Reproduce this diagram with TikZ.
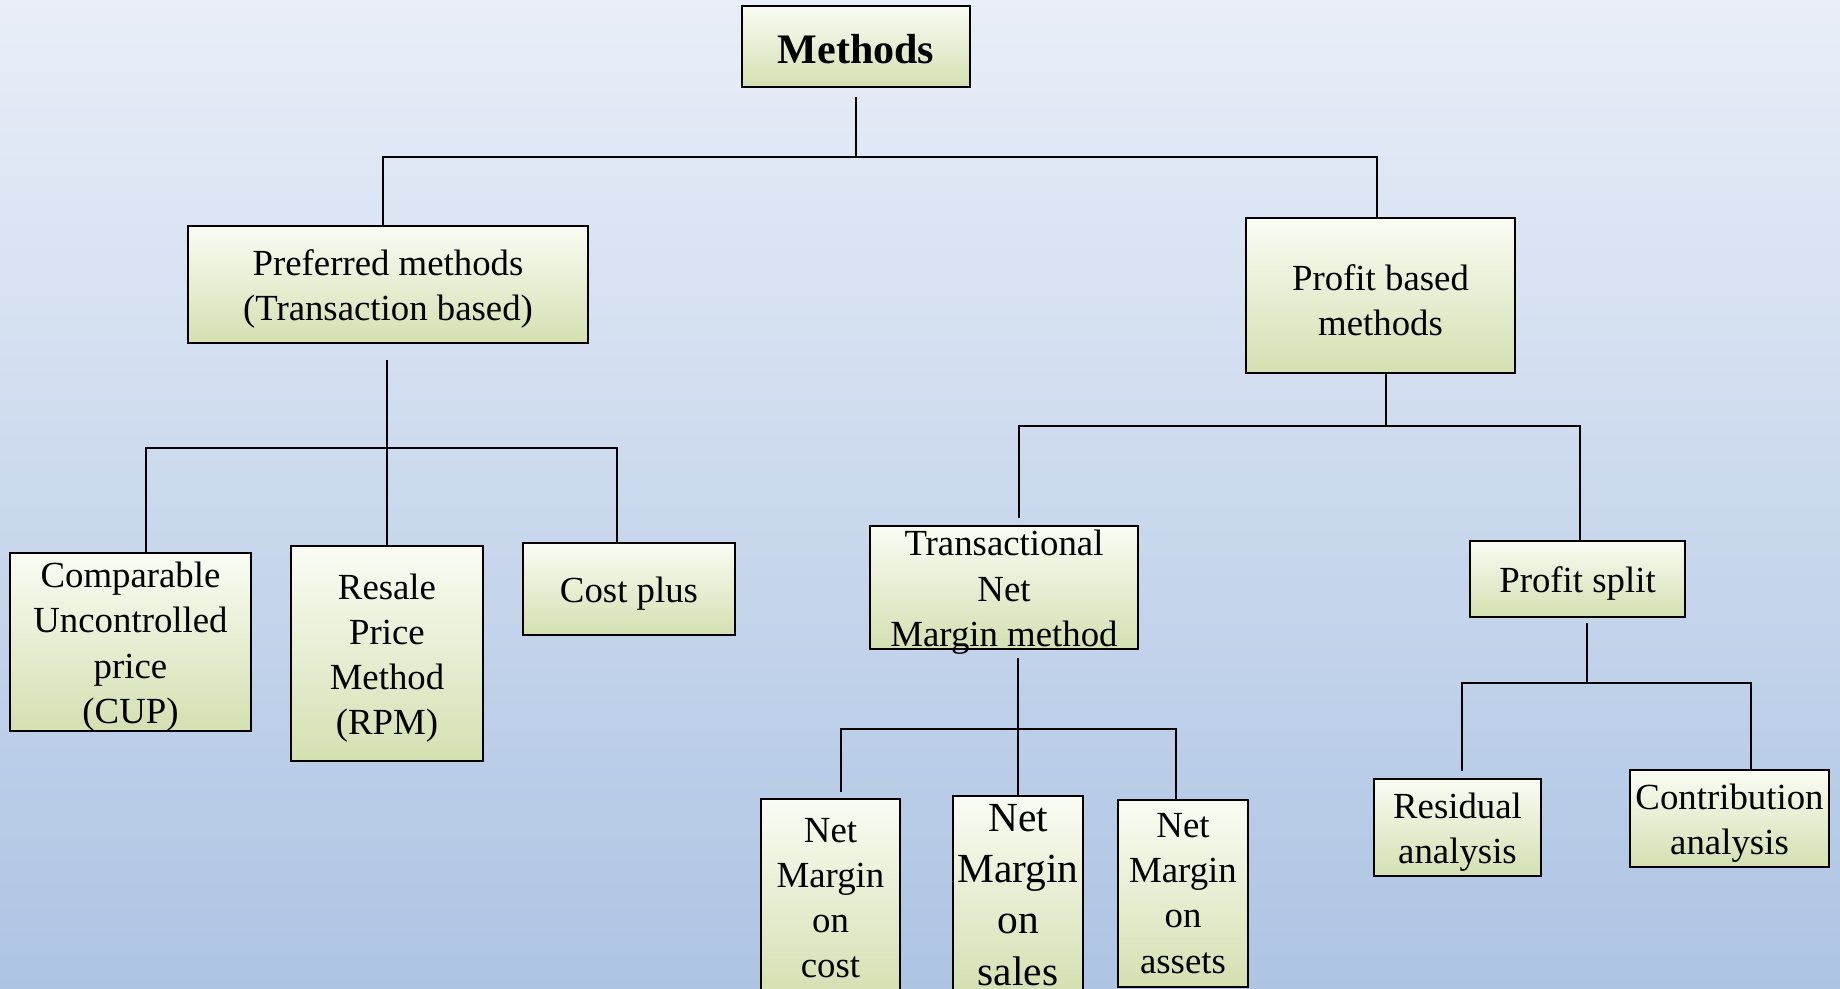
\documentclass[tikz,border=0pt]{standalone}
\usepackage{fontspec}
\setmainfont{Liberation Serif}
\usepackage{tikz}
\usetikzlibrary{positioning, calc}
\definecolor{bgtop}{HTML}{E9EEF8}
\definecolor{bgbot}{HTML}{ADC4E3}
\definecolor{boxtop}{HTML}{FAFCF4}
\definecolor{boxbot}{HTML}{D3E0B1}
\newcommand{\tall}{\rule{0pt}{17.5pt}}
\tikzset{method node/.style={rectangle, draw, line width=1.2pt, top color=boxtop, bottom color=boxbot, inner sep=0pt, align=center, font=\fontsize{18.4}{22.6}\selectfont},
	method text/.style={inner sep=0pt, align=center, font=\fontsize{18.4}{22.6}\selectfont},}

\begin{document}
\begin{tikzpicture}[x=0.5pt, y=-0.5pt, line width=1pt]
				% Background
				\clip (0,0) rectangle (1840,989);
				\shade[top color=bgtop, bottom color=bgbot] (0,0) rectangle (1840,989);
				% Boxes
				\node[method node, minimum width=114pt, minimum height=40.5pt, font=\fontsize{21}{25}\selectfont\bfseries] (methods) at (856,46.5) {\tall Methods};
				\node[method node, minimum width=200pt, minimum height=58.5pt] (pref) at (388,284.5) {\tall Preferred methods\\(Transaction based)};
				\node[method node, minimum width=134.5pt, minimum height=77.5pt] (profit) at (1380.5,295.5) {\tall Profit based\\methods};
				\node[method node, minimum width=120.5pt, minimum height=88pt] (cup) at (130.5,642) {\tall Comparable\\Uncontrolled\\price\\(CUP)};
				\node[method node, minimum width=96pt, minimum height=107.5pt] (rpm) at (387,653.5) {\tall Resale\\Price\\Method\\(RPM)};
				\node[method node, minimum width=106pt, minimum height=46pt] (cost) at (629,589) {\tall Cost plus};
				\node[method node, minimum width=134pt, minimum height=61.5pt] (tnmm) at (1004,587.5) {};
				\node[method text] (tnmm text) at (tnmm.center) {\tall Transactional\\Net\\Margin method};
				\node[method node, minimum width=107.5pt, minimum height=38pt] (split) at (1577.5,579) {\tall Profit split};
				\node[method node, minimum width=69.5pt, minimum height=99pt] (nmcost) at (830.5,898) {Net\\Margin\\on\\cost};
				\node[method node, minimum width=65pt, minimum height=99pt, font=\fontsize{20.7}{25.6}\selectfont] (nmsales) at (1018,895) {Net\\Margin\\on\\sales};
				\node[method node, minimum width=65pt, minimum height=93.5pt] (nmassets) at (1183,893.5) {Net\\Margin\\on\\assets};
				\node[method node, minimum width=83.5pt, minimum height=48.5pt] (resid) at (1457.5,827.5) {\tall Residual\\analysis};
				\node[method node, minimum width=99.5pt, minimum height=48.5pt] (contrib) at (1729.5,818.5) {\tall Contribution\\analysis};
				% Bus points
				\coordinate (a1) at (383,157);
				\coordinate (a2) at (1377,157);
				\coordinate (b1) at (146,448);
				\coordinate (b2) at (617,448);
				\coordinate (c1) at (1019,426);
				\coordinate (c2) at (1580,426);
				\coordinate (d1) at (841,729);
				\coordinate (d2) at (1176,729);
				\coordinate (e0) at (1587,683);
				\coordinate (e1) at (1462,683);
				\coordinate (e2) at (1751,683);
				% Lines
				\draw[shorten <=4.5pt] (methods.south) -- (methods.south |- a1);
				\draw (a1 |- pref.north) -- (a1) -- (a2) -- (a2 |- profit.north);
				\draw[shorten >=8pt] (rpm.north) -- (rpm.north |- pref.south);
				\draw (b1 |- cup.north) -- (b1) -- (b2) -- (b2 |- cost.north);
				\draw ([xshift=2.5pt]profit.south) -- ([xshift=2.5pt]profit.south |- c1);
				\draw[shorten <=3.5pt] (c1 |- tnmm.north) -- (c1) -- (c2) -- (c2 |- split.north);
				\draw[shorten >=4pt] (nmsales.north) -- (nmsales.north |- tnmm.south);
				\draw[shorten <=3pt] (d1 |- nmcost.north) -- (d1) -- (d2) -- (d2 |- nmassets.north);
				\draw[shorten >=2.5pt] (e0) -- (e0 |- split.south);
				\draw[shorten <=3.5pt] (e1 |- resid.north) -- (e1) -- (e2) -- (e2 |- contrib.north);
			\end{tikzpicture}
\end{document}
